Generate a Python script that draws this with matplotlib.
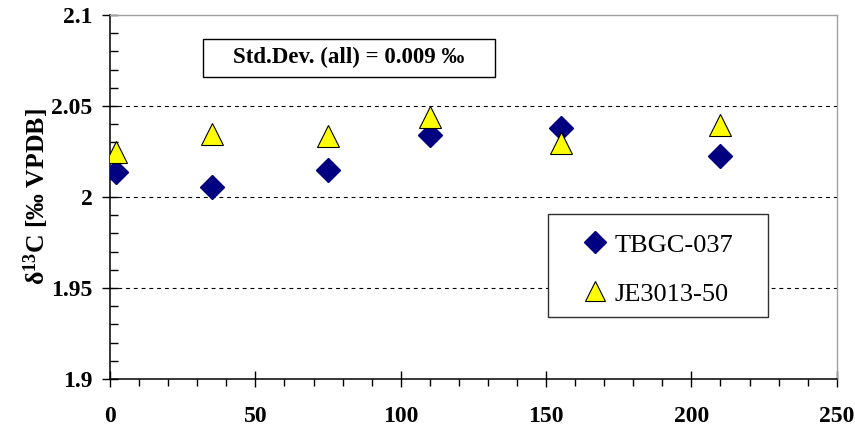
import matplotlib
matplotlib.use("Agg")
import matplotlib.pyplot as plt
from matplotlib.patches import Rectangle
from matplotlib.ticker import MultipleLocator

plt.rcParams['font.family'] = ['Liberation Serif', 'DejaVu Serif']
plt.rcParams['mathtext.default'] = 'regular'

# sample position and measured d13C values
pos = [2, 35, 75, 110, 155, 210]
tbgc = [2.014, 2.0055, 2.015, 2.034, 2.038, 2.0225]
je3013 = [2.025, 2.0345, 2.0335, 2.044, 2.0295, 2.0395]
std_text = "Std.Dev. (all) = 0.009 \u2030"

fig = plt.figure(figsize=(8.55, 4.26), dpi=100)
ax = fig.add_axes([0.1287, 0.1103, 0.8499, 0.8545])

ax.plot(pos, tbgc, linestyle='none', marker='D', markersize=12.5,
        color='#000080', markeredgecolor='#000080', label='TBGC-037', zorder=3)
ax.plot(pos, je3013, linestyle='none', marker='^', markersize=16.5,
        markerfacecolor='#ffff00', markeredgecolor='black', markeredgewidth=0.8,
        label='JE3013-50', zorder=3)

ax.set_xlim(0, 250)
ax.set_ylim(1.9, 2.1)
ax.xaxis.set_major_locator(MultipleLocator(50))
ax.xaxis.set_minor_locator(MultipleLocator(10))
ax.yaxis.set_major_locator(MultipleLocator(0.05))
ax.yaxis.set_minor_locator(MultipleLocator(0.01))
ax.set_yticks([1.9, 1.95, 2.0, 2.05, 2.1], ['1.9', '1.95', '2', '2.05', '2.1'])

for y in [1.95, 2.0, 2.05]:
    ax.axhline(y, color='black', linewidth=0.8, linestyle=(0, (3.5, 3.5)), zorder=1)

ax.tick_params(axis='both', which='major', direction='inout', length=11, width=1,
               labelsize=17)
ax.tick_params(axis='x', which='major', pad=14)
ax.tick_params(axis='y', which='major', pad=7)
ax.tick_params(axis='x', which='minor', direction='out', length=5, width=1)
ax.tick_params(axis='y', which='minor', direction='in', length=6, width=1)
for lab in ax.get_xticklabels() + ax.get_yticklabels():
    lab.set_fontweight('bold')

for side in ['left', 'bottom']:
    ax.spines[side].set_color('black')
    ax.spines[side].set_linewidth(1.1)
for side in ['top', 'right']:
    ax.spines[side].set_color('#a0a0a0')
    ax.spines[side].set_linewidth(1.0)

ax.set_ylabel('\u03b4$^{13}$C [\u2030 VPDB]', fontsize=18.5, fontweight='bold',
              labelpad=0)

# std dev box
ax.add_patch(Rectangle((0.128, 0.830), 0.402, 0.104, transform=ax.transAxes,
                       facecolor='white', edgecolor='black', linewidth=1.0, zorder=4))
ax.text(0.329, 0.882, std_text, transform=ax.transAxes, ha='center', va='center',
        fontsize=16.5, fontweight='bold', zorder=5)

# legend frame drawn as its own box, entries placed inside it
ax.add_patch(Rectangle((0.6027, 0.1703), 0.3027, 0.283, transform=ax.transAxes,
                       facecolor='white', edgecolor='#303030', linewidth=1.0, zorder=4))
leg = ax.legend(loc='upper left', bbox_to_anchor=(0.6495, 0.401),
                fontsize=19, frameon=False, borderpad=0,
                labelspacing=0.97, handlelength=1.0, handletextpad=0.25,
                borderaxespad=0, markerscale=0.9)
leg.set_zorder(5)

fig.savefig('out.png', dpi=100)
